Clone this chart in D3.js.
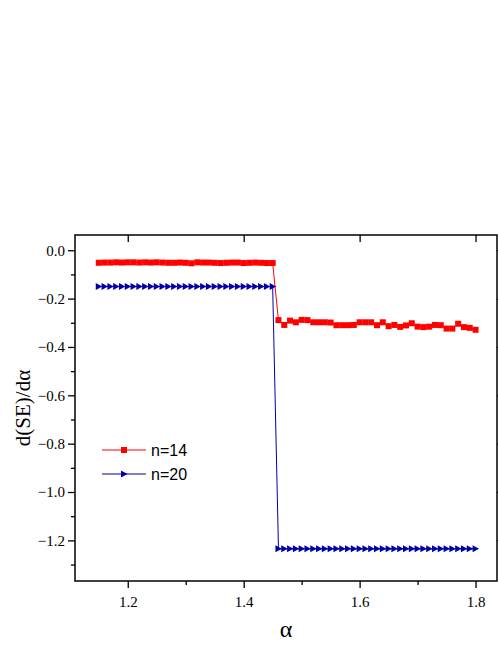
<!DOCTYPE html><html><head><meta charset="utf-8"><script src="https://cdn.jsdelivr.net/npm/d3@7"></script>
<style>body{margin:0;background:#fff} .sf{font-family:"Liberation Serif","DejaVu Serif",serif !important}</style></head><body><svg id="c" width="498" height="645"></svg><script>
const xs1=d3.range(0,31).map(i=>+(1.15+i*0.01).toFixed(2));
const xs2=d3.range(0,35).map(i=>+(1.46+i*0.01).toFixed(2));
const redFlat=[-0.052,-0.051,-0.051,-0.050,-0.051,-0.050,-0.050,-0.051,-0.050,-0.051,-0.050,-0.051,-0.052,-0.052,-0.051,-0.052,-0.054,-0.050,-0.051,-0.051,-0.052,-0.053,-0.052,-0.051,-0.051,-0.053,-0.052,-0.051,-0.052,-0.053,-0.053];
const redLow=[-0.289,-0.309,-0.291,-0.298,-0.288,-0.289,-0.298,-0.298,-0.298,-0.299,-0.310,-0.310,-0.310,-0.309,-0.298,-0.298,-0.298,-0.310,-0.298,-0.314,-0.309,-0.317,-0.311,-0.302,-0.316,-0.318,-0.316,-0.309,-0.310,-0.324,-0.324,-0.304,-0.318,-0.321,-0.329];
const blueFlat=xs1.map(()=>-0.150);
const blueLow=xs2.map(()=>-1.235);
const xTicks=[1.2,1.4,1.6,1.8], yTicks=[0,-0.2,-0.4,-0.6,-0.8,-1.0,-1.2];
const red=xs1.map((x,i)=>[x,redFlat[i]]).concat(xs2.map((x,i)=>[x,redLow[i]]));
const blue=xs1.map((x,i)=>[x,blueFlat[i]]).concat(xs2.map((x,i)=>[x,blueLow[i]]));
const L=75,R=497,T=235,B=581;
const x=d3.scaleLinear().domain([1.109,1.837]).range([L,R]);
const y=d3.scaleLinear().domain([0.063,-1.368]).range([T,B]);
const s=d3.select("#c");
s.append("rect").attr("x",L).attr("y",T).attr("width",R-L).attr("height",B-T).attr("fill","none").attr("stroke","#000").attr("stroke-width",1.5);
s.append("g").attr("transform",`translate(0,${B})`).call(d3.axisBottom(x).tickValues(xTicks).tickSize(7).tickPadding(8).tickFormat(d3.format(".1f")));
s.append("g").attr("transform",`translate(0,${B})`).call(d3.axisBottom(x).tickValues([1.3,1.5,1.7]).tickSize(4).tickFormat(""));
s.append("g").attr("transform",`translate(${L},0)`).call(d3.axisLeft(y).tickValues(yTicks).tickSize(7).tickFormat(d=>d===0?"0.0":d3.format(".1f")(d)));
s.append("g").attr("transform",`translate(${L},0)`).call(d3.axisLeft(y).tickValues([-0.1,-0.3,-0.5,-0.7,-0.9,-1.1,-1.3]).tickSize(4).tickFormat(""));
s.append("g").attr("transform",`translate(0,${T})`).call(d3.axisBottom(x).tickValues(xTicks).tickSize(7).tickFormat(""));
s.append("g").attr("transform",`translate(${R},0)`).call(d3.axisLeft(y).tickValues(yTicks).tickSize(-3).tickFormat(""));
s.selectAll(".domain").remove();
s.selectAll("g").attr("font-family",null);
s.selectAll(".tick line").attr("stroke-width",1.3);
s.selectAll(".tick text").attr("class","sf").attr("font-size",15).attr("fill","#000");
const line=d3.line().x(d=>x(d[0])).y(d=>y(d[1]));
s.append("path").attr("d",line(red)).attr("fill","none").attr("stroke","#f00").attr("stroke-width",1);
s.append("path").attr("d",line(blue)).attr("fill","none").attr("stroke","#00a").attr("stroke-width",1);
s.selectAll(".rm").data(red).join("rect").attr("x",d=>x(d[0])-3).attr("y",d=>y(d[1])-3).attr("width",6).attr("height",6).attr("fill","#f00");
const tri=d=>{const cx=x(d[0]),cy=y(d[1]);return `M${cx-3},${cy-3.5}L${cx+3.5},${cy}L${cx-3},${cy+3.5}Z`;};
s.selectAll(".bm").data(blue).join("path").attr("d",tri).attr("fill","#00a");
const lg=[["n=14","#f00",450],["n=20","#00a",474]];
lg.forEach(([t,c,yy],i)=>{
 s.append("line").attr("x1",102).attr("x2",146).attr("y1",yy).attr("y2",yy).attr("stroke",c);
 if(i===0)s.append("rect").attr("x",121).attr("y",yy-3).attr("width",6).attr("height",6).attr("fill",c);
 else s.append("path").attr("d",tri([x.invert(124),y.invert(yy)])).attr("fill",c);
 s.append("text").attr("x",151).attr("y",yy+6).attr("font-family","Liberation Sans, Arial, sans-serif").attr("font-size",16).text(t);
});
s.append("text").attr("class","sf").attr("x",(L+R)/2).attr("y",637).attr("text-anchor","middle").attr("font-size",24).text("α");
s.append("text").attr("class","sf").attr("transform",`translate(30,${(T+B)/2}) rotate(-90)`).attr("text-anchor","middle").attr("font-size",21).text("d(SE)/dα");
</script></body></html>
